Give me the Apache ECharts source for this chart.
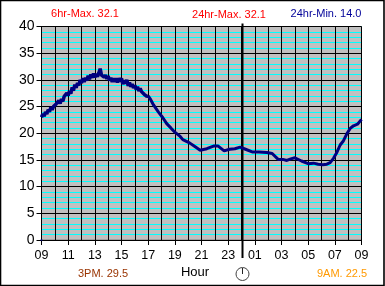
<!DOCTYPE html>
<html><head><meta charset="utf-8">
<style>html,body{margin:0;padding:0;background:#fff}#c{width:385px;height:286px}</style>
<script src="https://cdn.jsdelivr.net/npm/echarts@6/dist/echarts.min.js"></script>
</head><body><div id="c"></div>
<script>
const hourTickLabels = ['09','11','13','15','17','19','21','23','01','03','05','07','09'];
const yTickLabels = [0,5,10,15,20,25,30,35,40];
const midnightHour = 15;
const captions = [
  {text:'6hr-Max. 32.1', at:[85,14], color:'#ff0000', size:11},
  {text:'24hr-Max. 32.1', at:[229,15], color:'#ff0000', size:11},
  {text:'24hr-Min. 14.0', at:[326,14], color:'#000099', size:11},
  {text:'3PM. 29.5', at:[103,274], color:'#993300', size:11},
  {text:'Hour', at:[195,272], color:'#000000', size:13},
  {text:'9AM. 22.5', at:[342,274], color:'#ff9900', size:11}
];
// Readings in the noisy morning part, one every 0.1 h from the chart start
const noisyTemps = [23.0,23.6,23.2,24.0,23.6,24.4,24.0,24.9,24.4,25.0,24.7,25.5,25.2,26.1,25.6,26.4,26.0,26.9,26.6,27.5,
27.1,27.9,27.4,28.6,28.0,29.1,28.5,29.4,29.0,30.0,29.4,30.3,29.6,30.4,29.9,30.8,30.1,31.0,30.4,31.2,
30.5,31.1,30.6,31.3,32.1,30.9,31.2,30.5,30.9,30.2,30.7,29.9,30.4,29.6,30.3,29.6,30.3,29.5,30.3,29.7,
30.3,29.2,29.9,29.3,30.0,28.9,29.5,28.7,29.2,28.5,29.0,28.2,28.7,27.9,28.4,27.8,28.0,27.3,27.5,26.9,27.0];
const laterHours = [8,8.14,8.4,8.76,9.1,9.39,9.7,10,10.4,10.6,11.1,11.5,11.9,12.4,12.9,13.25,13.7,14.1,14.5,14.9,15.3,15.8,16.3,16.9,17.3,17.75,18.1,18.4,18.7,19,19.5,20,20.4,20.75,21.1,21.4,21.65,21.9,22.15,22.4,22.65,22.9,23.15,23.4,23.7,24];
const laterTemps = [27,26.5,25.3,24,22.9,21.8,21,20.2,19.4,18.8,18.2,17.5,16.8,17.1,17.6,17.6,16.7,17.0,17.1,17.4,17,16.5,16.5,16.4,16.2,15.1,15.1,14.9,15.2,15.4,14.8,14.3,14.4,14.2,14.1,14.2,14.5,15.3,16.4,17.8,18.6,19.9,20.9,21.4,21.7,22.6];
const originReading = [[0,0]];

const noisyPoints = noisyTemps.map((t,i)=>[i/10,t]);
const laterPoints = laterHours.map((h,i)=>[h,laterTemps[i]]);
const font = 'Liberation Sans';
const chart = echarts.init(document.getElementById('c'),null,{renderer:'canvas'});
chart.setOption({
  animation:false,
  backgroundColor:'#ffffff',
  grid:{left:41.5,right:23.5,top:26.5,bottom:46,show:true,backgroundColor:'#c0c0c0',borderColor:'#808080',borderWidth:1},
  xAxis:[
   {type:'value',min:0,max:24,interval:1,
    axisLine:{show:true,onZero:false,lineStyle:{color:'#000',width:1}},
    axisTick:{show:false},axisLabel:{show:false},
    splitLine:{show:true,lineStyle:{color:'#000',width:1}}},
   {type:'value',min:0,max:24,interval:2,position:'bottom',
    axisLine:{show:false,onZero:false},
    axisTick:{show:true,length:5,lineStyle:{color:'#000'}},
    splitLine:{show:false},
    axisLabel:{color:'#000',fontFamily:font,fontSize:12.5,margin:9,showMinLabel:true,showMaxLabel:true,
      formatter:v=>hourTickLabels[v/2]}}],
  yAxis:[
   {type:'value',position:'left',min:0,max:40,interval:1,
    axisLine:{show:false},axisTick:{show:false},axisLabel:{show:false},
    splitLine:{show:true,lineStyle:{color:'#00ffff',width:1}}},
   {type:'value',position:'left',min:yTickLabels[0],max:yTickLabels[yTickLabels.length-1],interval:5,
    axisLine:{show:true,lineStyle:{color:'#000',width:1}},
    axisTick:{show:true,length:5,lineStyle:{color:'#000'}},
    splitLine:{show:true,lineStyle:{color:'#000',width:1}},
    axisLabel:{color:'#000',fontFamily:font,fontSize:14,margin:7}}],
  graphic:[{type:'rect',silent:true,z:100,shape:{x:0.5,y:0.5,width:383.5,height:285},style:{fill:'none',stroke:'#000',lineWidth:1.6}}]
    .concat(captions.map(c=>({type:'text',x:c.at[0],y:c.at[1],silent:true,z:100,
      style:{text:c.text,fill:c.color,font:c.size+'px "'+font+'"',textAlign:'center',textVerticalAlign:'middle'}}))),
  series:[
    {type:'custom',z:3,clip:false,silent:true,yAxisIndex:1,data:[[midnightHour]],encode:{x:0},
      renderItem:(p,api)=>{
        const top=api.coord([midnightHour,40]),bot=api.coord([midnightHour,0]);
        const x=Math.round(top[0])+0.5;
        return {type:'group',children:[
          {type:'line',shape:{x1:x,y1:top[1]-3,x2:x,y2:bot[1]+18},style:{stroke:'#000',lineWidth:2}},
          {type:'circle',shape:{cx:x,cy:bot[1]+34,r:6.5},style:{fill:'#fff',stroke:'#444',lineWidth:1}},
          {type:'line',shape:{x1:x,y1:bot[1]+34,x2:x,y2:bot[1]+28},style:{stroke:'#222',lineWidth:1}}
        ]};
      }},
    {type:'line',z:5,yAxisIndex:1,data:noisyPoints,showSymbol:false,clip:false,
      lineStyle:{color:'#000080',width:3.5},itemStyle:{color:'#000080'}},
    {type:'line',z:5,yAxisIndex:1,data:laterPoints,showSymbol:false,clip:false,
      lineStyle:{color:'#000080',width:3},itemStyle:{color:'#000080'}},
    {type:'scatter',z:5,yAxisIndex:1,data:originReading,symbolSize:2,clip:false,itemStyle:{color:'#000080'}}
  ]
});
</script></body></html>
